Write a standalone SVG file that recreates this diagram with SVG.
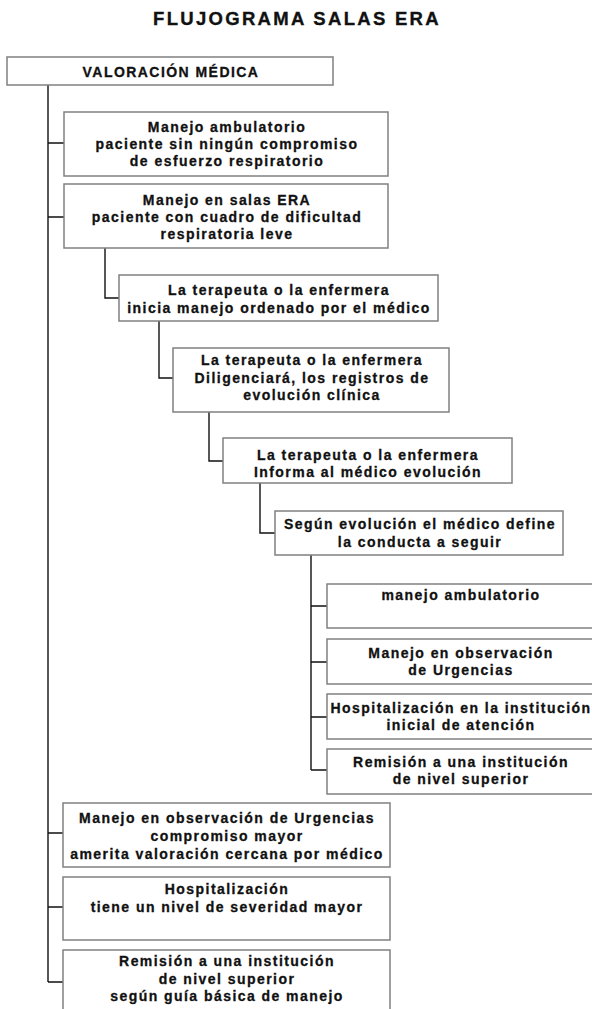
<svg xmlns="http://www.w3.org/2000/svg" width="592" height="1009" viewBox="0 0 592 1009">
<style>
.bx{fill:#fff;stroke:#808080;stroke-width:1.5}
.t{font-family:"Liberation Sans",Arial,sans-serif;font-weight:bold;font-size:14px;letter-spacing:1.45px;text-anchor:middle;fill:#111;stroke:#111;stroke-width:0.3}
.ttl{font-family:"Liberation Sans",Arial,sans-serif;font-weight:bold;font-size:18.5px;letter-spacing:2.3px;text-anchor:middle;fill:#111;stroke:#111;stroke-width:0.35}
.c{fill:none;stroke:#111;stroke-width:1.4}
</style>
<rect width="592" height="1009" fill="#fff"/>
<text class="ttl" x="297" y="25">FLUJOGRAMA SALAS ERA</text>
<g id="connectors">
<path class="c" d="M48,85V982M48,143H64M48,217H64M48,833H63M48,907H63M48,982H63"/>
<path class="c" d="M105,248V298H119"/>
<path class="c" d="M159,321V378H173"/>
<path class="c" d="M209,412V461H223"/>
<path class="c" d="M260,483V533H275"/>
<path class="c" d="M311,555V770M311,606H327M311,662H327M311,717H327M311,770H327"/>
</g>
<g id="n1"><rect class="bx" x="7" y="57" width="326" height="28"/><text class="t" x="171" y="77">VALORACIÓN MÉDICA</text></g>
<g id="n2"><rect class="bx" x="64" y="112" width="324" height="64"/>
<text class="t" x="227" y="132">Manejo ambulatorio</text><text class="t" x="227" y="149">paciente sin ningún compromiso</text><text class="t" x="227" y="166">de esfuerzo respiratorio</text></g>
<g id="n3"><rect class="bx" x="64" y="184" width="324" height="64"/>
<text class="t" x="227" y="205">Manejo en salas ERA</text><text class="t" x="227" y="222">paciente con cuadro de dificultad</text><text class="t" x="227" y="239">respiratoria leve</text></g>
<g id="n4"><rect class="bx" x="119" y="275" width="319" height="46"/>
<text class="t" x="279" y="295">La terapeuta o la enfermera</text><text class="t" x="279" y="313">inicia manejo ordenado por el médico</text></g>
<g id="n5"><rect class="bx" x="173" y="348" width="276" height="64"/>
<text class="t" x="312" y="365">La terapeuta o la enfermera</text><text class="t" x="312" y="383">Diligenciará, los registros de</text><text class="t" x="312" y="400">evolución clínica</text></g>
<g id="n6"><rect class="bx" x="223" y="438" width="289" height="45"/>
<text class="t" x="368" y="460">La terapeuta o la enfermera</text><text class="t" x="368" y="477">Informa al médico evolución</text></g>
<g id="n7"><rect class="bx" x="275" y="511" width="288" height="44"/>
<text class="t" x="420" y="529">Según evolución el médico define</text><text class="t" x="420" y="547">la conducta a  seguir</text></g>
<g id="n8"><rect class="bx" x="327" y="584" width="268" height="44"/>
<text class="t" x="461" y="600">manejo ambulatorio</text></g>
<g id="n9"><rect class="bx" x="327" y="639" width="268" height="45"/>
<text class="t" x="461" y="658">Manejo en observación</text><text class="t" x="461" y="675">de Urgencias</text></g>
<g id="n10"><rect class="bx" x="327" y="694" width="268" height="45"/>
<text class="t" x="461" y="713">Hospitalización en la institución</text><text class="t" x="461" y="730">inicial de atención</text></g>
<g id="n11"><rect class="bx" x="327" y="749" width="268" height="45"/>
<text class="t" x="461" y="767">Remisión a una institución</text><text class="t" x="461" y="784">de nivel superior</text></g>
<g id="n12"><rect class="bx" x="63" y="803" width="327" height="64"/>
<text class="t" x="227" y="823">Manejo en observación de Urgencias</text><text class="t" x="227" y="841">compromiso mayor</text><text class="t" x="227" y="859">amerita valoración cercana por médico</text></g>
<g id="n13"><rect class="bx" x="63" y="877" width="327" height="63"/>
<text class="t" x="227" y="894">Hospitalización</text><text class="t" x="227" y="912">tiene un nivel de severidad mayor</text></g>
<g id="n14"><rect class="bx" x="63" y="950" width="327" height="66"/>
<text class="t" x="227" y="966">Remisión a una institución</text><text class="t" x="227" y="984">de nivel superior</text><text class="t" x="227" y="1001">según guía básica de manejo</text></g>
</svg>
